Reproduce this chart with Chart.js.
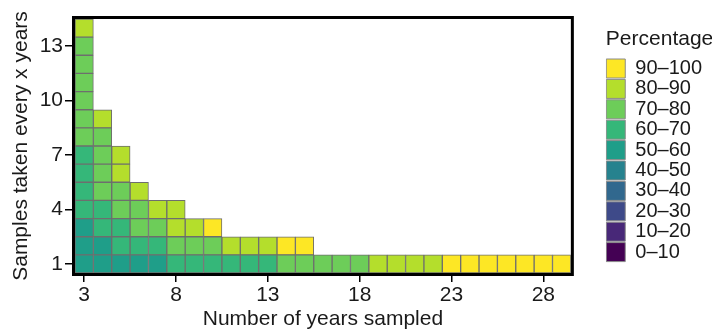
<!DOCTYPE html>
<html>
<head>
<meta charset="utf-8">
<script src="https://cdn.jsdelivr.net/npm/chart.js@4"></script>
<style>
  body { margin: 0; background: #fff; }
  #wrap { width: 718px; height: 335px; }
</style>
</head>
<body>
<div id="wrap"><canvas id="heat"></canvas></div>
<script>
// x categories: number of years sampled
const yearsSampled = [3, 4, 5, 6, 7, 8, 9, 10, 11, 12, 13, 14, 15, 16, 17, 18, 19, 20, 21, 22, 23, 24, 25, 26, 27, 28, 29];
// y levels: samples taken every x years
const intervals = [1, 2, 3, 4, 5, 6, 7, 8, 9, 10, 11, 12, 13, 14];

// percentage per cell, one row per interval, starting at 3 years sampled
const every1 = [55, 55, 55, 55, 55, 65, 65, 65, 65, 65, 65, 75, 75, 75, 75, 75, 85, 85, 85, 85, 95, 95, 95, 95, 95, 95, 95];
const every2 = [55, 55, 65, 65, 65, 75, 75, 75, 85, 85, 85, 95, 95];
const every3 = [55, 65, 65, 75, 75, 85, 85, 95];
const every4 = [65, 65, 75, 75, 85, 85];
const every5 = [65, 75, 75, 85];
const every6 = [65, 75, 85];
const every7 = [65, 75, 85];
const every8 = [75, 75];
const every9 = [75, 85];
const every10 = [75];
const every11 = [75];
const every12 = [75];
const every13 = [75];
const every14 = [85];
const rows = [every1, every2, every3, every4, every5, every6, every7, every8, every9, every10, every11, every12, every13, every14];

// legend bins and viridis colours
const binLabels = ['0–10', '10–20', '20–30', '30–40', '40–50', '50–60', '60–70', '70–80', '80–90', '90–100'];
const binColors = ['#440154', '#482878', '#3E4A89', '#31688E', '#26828E', '#1F9E89', '#35B779', '#6DCD59', '#B4DE2C', '#FDE725'];

const xTicks = [3, 8, 13, 18, 23, 28];
const yTicks = [1, 4, 7, 10, 13];

function colorFor(pct) {
    const bin = Math.min(9, Math.floor(pct / 10));
    return binColors[bin];
}

const datasets = intervals.map((k, r) => {
    const row = rows[r];
    return {
        label: 'every ' + k,
        data: yearsSampled.map((yr, i) => row[i] != null ? [k - 0.5, k + 0.5] : null),
        backgroundColor: yearsSampled.map((yr, i) => row[i] != null ? colorFor(row[i]) : 'transparent'),
        borderColor: '#6e6e6e',
        borderWidth: 1,
        borderSkipped: false,
        barPercentage: 1,
        categoryPercentage: 1
    };
});

// thick black box round the plot panel
const framePlugin = {
    id: 'frame',
    afterDraw(chart) {
        const a = chart.chartArea;
        const ctx = chart.ctx;
        ctx.save();
        ctx.strokeStyle = '#000';
        ctx.lineWidth = 3;
        ctx.strokeRect(a.left - 1.5, a.top - 1.5, a.right - a.left + 3, a.bottom - a.top + 3);
        ctx.restore();
    }
};

Chart.defaults.font.family = '"Liberation Sans", Arial, sans-serif';
Chart.defaults.color = '#1a1a1a';

const FONT = 21;

new Chart(document.getElementById('heat').getContext('2d'), {
    type: 'bar',
    data: {
        labels: yearsSampled.map(String),
        datasets: datasets
    },
    options: {
        responsive: true,
        maintainAspectRatio: false,
        animation: false,
        layout: { padding: { top: 19, right: 6, left: 0, bottom: 0 } },
        plugins: {
            tooltip: { enabled: false },
            legend: {
                position: 'right',
                align: 'start',
                title: {
                    display: true,
                    text: 'Percentage',
                    position: 'start',
                    font: { size: FONT },
                    padding: { top: 9.5, bottom: 4.4 }
                },
                labels: {
                    boxWidth: 19,
                    boxHeight: 19,
                    padding: 0.4,
                    font: { size: 20 },
                    generateLabels() {
                        return binLabels.map((t, i) => ({
                            text: t,
                            fillStyle: binColors[i],
                            strokeStyle: '#8a8a8a',
                            lineWidth: 1,
                            hidden: false,
                            index: i
                        })).reverse();
                    }
                },
                onClick() {}
            }
        },
        scales: {
            x: {
                stacked: true,
                offset: true,
                grid: { display: true, drawOnChartArea: false, offset: false, tickLength: 9, color: '#000', lineWidth: 1.5 },
                border: { display: false },
                afterBuildTicks(scale) {
                    scale.ticks = xTicks.map(v => ({ value: yearsSampled.indexOf(v) }));
                },
                afterFit(scale) { scale.height = 62; },
                ticks: { autoSkip: false, maxRotation: 0, font: { size: FONT }, padding: 1 },
                title: { display: true, text: 'Number of years sampled', font: { size: FONT }, padding: { top: 0, bottom: 3 } }
            },
            y: {
                min: 0.5,
                max: 14.5,
                grid: { display: true, drawOnChartArea: false, tickLength: 10, color: '#000', lineWidth: 1.5 },
                border: { display: false },
                afterBuildTicks(scale) {
                    scale.ticks = yTicks.map(v => ({ value: v }));
                },
                afterFit(scale) { scale.width = 75; },
                ticks: { font: { size: FONT }, padding: 2 },
                title: { display: true, text: 'Samples taken every x years', font: { size: FONT }, padding: { top: 9, bottom: 0 } }
            },
            // empty spacer between the panel and the legend
            gap: {
                axis: 'y',
                position: 'right',
                grid: { display: false },
                border: { display: false },
                ticks: { display: false },
                afterFit(scale) { scale.width = 35; }
            }
        }
    },
    plugins: [framePlugin]
});
</script>
</body>
</html>
